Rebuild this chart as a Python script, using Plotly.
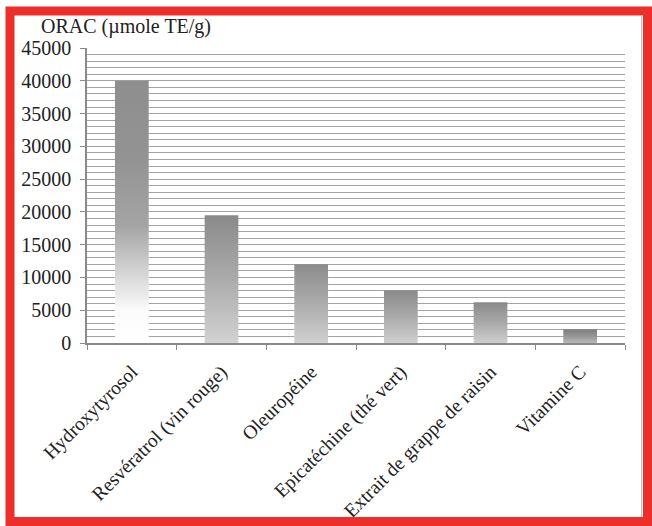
import plotly.graph_objects as go

# ORAC antioxidant capacity of some compounds
categories = [
    "Hydroxytyrosol",
    "Resvératrol (vin rouge)",
    "Oleuropéine",
    "Epicatéchine (thé vert)",
    "Extrait de grappe de raisin",
    "Vitamine C",
]
orac_values = [40000, 19500, 12000, 8000, 6200, 2100]
y_ticks = list(range(0, 45001, 5000))

# per-bar vertical shading (bottom -> top)
bar_shades = [
    [[0, "#ffffff"], [0.12, "#fcfcfc"], [0.45, "#a4a4a4"], [0.7, "#939393"], [1, "#8e8e8e"]],
    [[0, "#d2d2d2"], [0.5, "#ababab"], [1, "#8a8a8a"]],
    [[0, "#d0d0d0"], [0.5, "#acacac"], [1, "#8c8c8c"]],
    [[0, "#d0d0d0"], [0.5, "#aaaaaa"], [1, "#8a8a8a"]],
    [[0, "#cecece"], [0.5, "#a9a9a9"], [1, "#8a8a8a"]],
    [[0, "#b9b9b9"], [0.5, "#959595"], [1, "#7e7e7e"]],
]

W, H = 652, 526
ML, MR, MT, MB = 87, 27, 48, 183
half_w = 0.188

fig = go.Figure()
for i, (name, val) in enumerate(zip(categories, orac_values)):
    fig.add_trace(go.Scatter(
        x=[i - half_w, i + half_w, i + half_w, i - half_w, i - half_w],
        y=[0, 0, val, val, 0],
        mode="lines",
        line=dict(width=0),
        fill="toself",
        fillgradient=dict(type="vertical", colorscale=bar_shades[i]),
        name=name,
        hoverinfo="skip",
        showlegend=False,
    ))

serif = "Liberation Serif"
text_col = "#222222"
axis_grey = "#8a8a8a"
grid_grey = "#a3a3a3"

fig.update_layout(
    width=W, height=H,
    margin=dict(l=ML, r=MR, t=MT, b=MB, autoexpand=False),
    paper_bgcolor="white",
    plot_bgcolor="white",
    font=dict(family=serif, size=19, color=text_col),
    xaxis=dict(
        range=[-0.5, len(categories) - 0.5],
        automargin=False,
        tickmode="array",
        tickvals=list(range(len(categories))),
        ticktext=categories,
        tickangle=-45,
        ticks="",
        ticklabelstandoff=8,
        showgrid=False,
        zeroline=False,
        showline=True,
        linecolor=axis_grey,
        linewidth=1.5,
        tickfont=dict(family=serif, size=19.5, color=text_col),
        minor=dict(
            tickmode="array",
            tickvals=[k - 0.5 for k in range(len(categories) + 1)],
            ticks="outside",
            ticklen=5,
            tickcolor=axis_grey,
            tickwidth=1,
            showgrid=False,
        ),
        fixedrange=True,
    ),
    yaxis=dict(
        range=[0, 45000],
        automargin=False,
        tickmode="array",
        tickvals=y_ticks,
        ticktext=[str(v) for v in y_ticks],
        ticks="outside",
        ticklen=5,
        tickcolor=axis_grey,
        ticklabelstandoff=5,
        showgrid=True,
        gridcolor=grid_grey,
        gridwidth=1,
        zeroline=False,
        showline=True,
        linecolor=axis_grey,
        linewidth=1.5,
        tickfont=dict(family=serif, size=20, color=text_col),
        minor=dict(dtick=1000, showgrid=True, gridcolor=grid_grey, gridwidth=1, ticks=""),
        fixedrange=True,
    ),
)

pw = W - ML - MR
ph = H - MT - MB


def px_x(px):
    return (px - ML) / pw


def px_y(py):
    return (H - MB - py) / ph


# axis title placed above the y axis
fig.add_annotation(
    text="ORAC (µmole TE/g)",
    xref="paper", yref="paper",
    x=px_x(39), y=px_y(26),
    xanchor="left", yanchor="middle",
    showarrow=False,
    font=dict(family=serif, size=20, color=text_col),
)

# red frame around the whole graphic
fig.add_shape(
    type="rect", xref="paper", yref="paper",
    x0=px_x(10), x1=px_x(647.5), y0=px_y(521.5), y1=px_y(11),
    line=dict(color="#ec2f2b", width=9),
    fillcolor="rgba(0,0,0,0)",
    layer="above",
)
# thin grey edge inside the frame on the right
fig.add_shape(
    type="line", xref="paper", yref="paper",
    x0=px_x(641.5), x1=px_x(641.5), y0=px_y(517), y1=px_y(15),
    line=dict(color="#c4c4c4", width=1),
)

fig.write_html("out.html")
